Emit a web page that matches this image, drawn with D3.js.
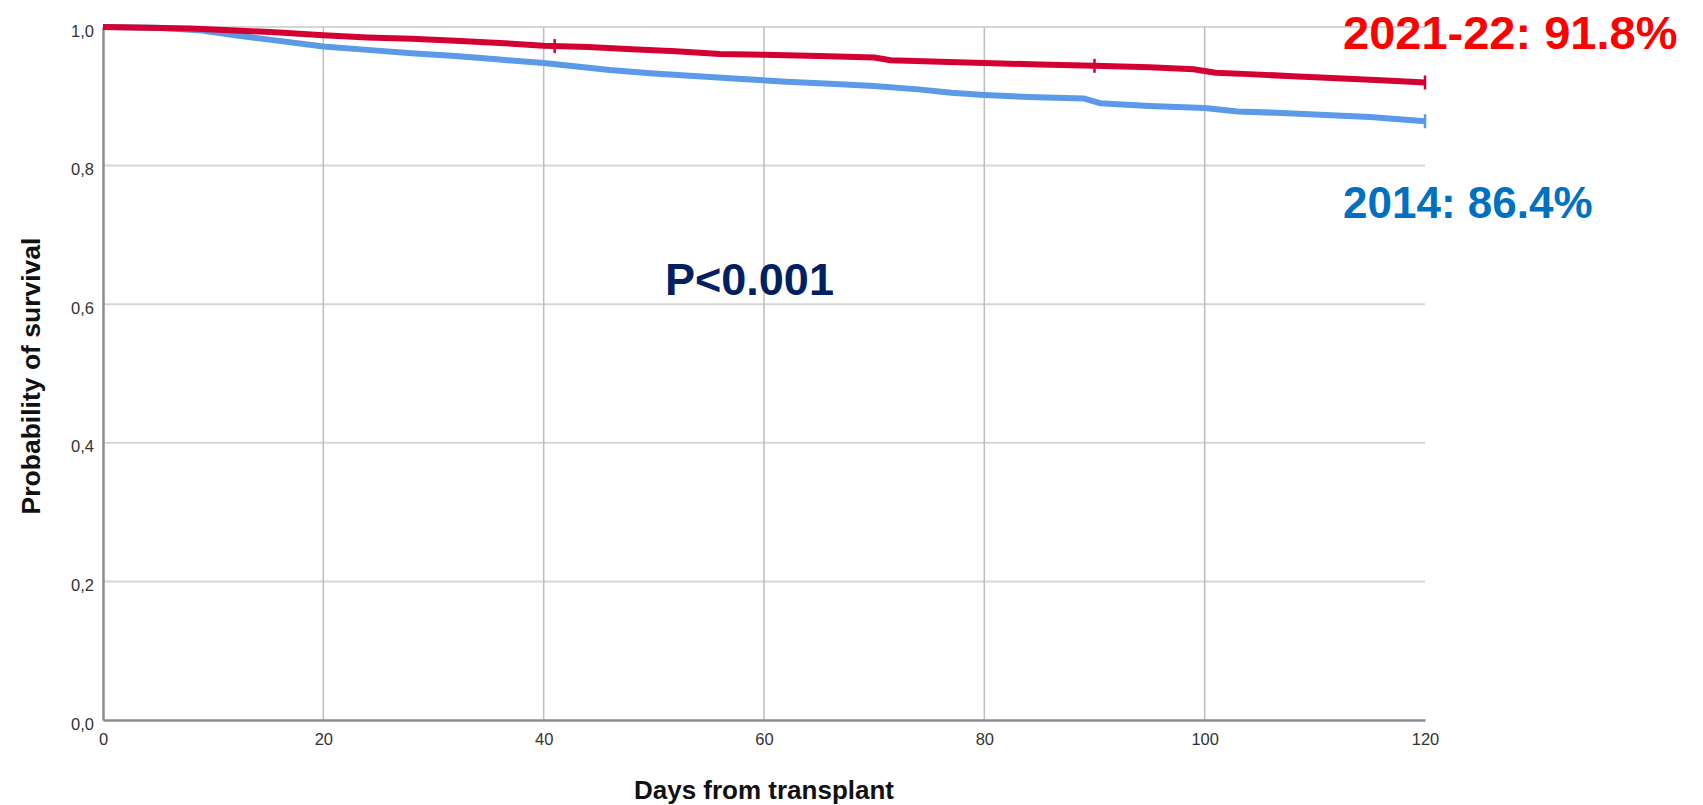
<!DOCTYPE html>
<html>
<head>
<meta charset="utf-8">
<script src="https://cdn.jsdelivr.net/npm/d3@7"></script>
<style>
  body { margin: 0; background: #fff; }
  svg { display: block; }
</style>
</head>
<body>
<svg id="chart" width="1703" height="805"></svg>
<script>
// Kaplan-Meier estimates (day, survival)
const daysRecent = [0, 8, 12, 16, 20, 24, 28, 32, 36, 40, 44, 48, 52, 56, 60, 65, 70, 71.5, 76, 80, 85, 90, 95, 99, 101, 104, 108, 112, 116, 120];
const survRecent = [1.0, 0.998, 0.995, 0.992, 0.988, 0.985, 0.983, 0.98, 0.977, 0.973, 0.971, 0.968, 0.965, 0.961, 0.96, 0.958, 0.956, 0.952, 0.95, 0.948, 0.946, 0.944, 0.942, 0.939, 0.934, 0.932, 0.929, 0.926, 0.923, 0.92];

const days2014 = [0, 5, 9, 12, 16, 20, 24, 28, 32, 36, 40, 43, 46, 50, 54, 58, 62, 66, 70, 74, 77, 80, 84, 89, 90.5, 95, 100, 103, 107, 111, 115, 120];
const surv2014 = [1.0, 0.999, 0.995, 0.988, 0.98, 0.972, 0.967, 0.962, 0.958, 0.953, 0.948, 0.943, 0.938, 0.933, 0.929, 0.925, 0.921, 0.918, 0.915, 0.91, 0.905, 0.902, 0.899, 0.897, 0.89, 0.886, 0.883, 0.878, 0.876, 0.873, 0.87, 0.864];

// censored observations (tick marks)
const censorRecent = [41, 90, 120];
const censor2014 = [120];

const xTicks = [0, 20, 40, 60, 80, 100, 120];
const yTicks = [0, 0.2, 0.4, 0.6, 0.8, 1.0];

const labelRecent = "2021-22: 91.8%";
const label2014 = "2014: 86.4%";
const pLabel = "P<0.001";

const svg = d3.select("#chart");
const margin = { left: 103, right: 278, top: 27, bottom: 85 };
const width = 1703, height = 805;

const x = d3.scaleLinear().domain([0, 120]).range([margin.left, width - margin.right]);
const y = d3.scaleLinear().domain([0, 1]).range([height - margin.bottom, margin.top]);

// grid
svg.append("g")
  .selectAll("line")
  .data(yTicks.filter((d) => d > 0))
  .join("line")
  .attr("x1", x(0)).attr("x2", x(120))
  .attr("y1", (d) => y(d)).attr("y2", (d) => y(d))
  .attr("stroke", "#d6d6d6")
  .attr("stroke-width", 2);

svg.append("g")
  .selectAll("line")
  .data(xTicks.filter((d) => d > 0 && d < 120))
  .join("line")
  .attr("x1", (d) => x(d)).attr("x2", (d) => x(d))
  .attr("y1", y(1)).attr("y2", y(0))
  .attr("stroke", "#bdbdbd")
  .attr("stroke-width", 1.5);

// axes
const xAxis = svg.append("g")
  .attr("transform", `translate(0,${y(0)})`)
  .call(d3.axisBottom(x).tickValues(xTicks).tickSize(0).tickPadding(13).tickFormat(d3.format("d")));
const yAxis = svg.append("g")
  .attr("transform", `translate(${x(0)},0)`)
  .call(d3.axisLeft(y).tickValues(yTicks).tickSize(0).tickPadding(9).tickFormat((d) => d.toFixed(1).replace(".", ",")));

[xAxis, yAxis].forEach((g) => {
  g.select(".domain").attr("stroke", "#8c8c8c").attr("stroke-width", 2.5);
  g.selectAll("text")
    .attr("font-family", "Arial, 'Liberation Sans', sans-serif")
    .attr("font-size", 16.5)
    .attr("fill", "#333");
});
yAxis.selectAll("text").attr("dy", "0.55em");

// curves
const line = d3.line()
  .x((d) => x(d[0]))
  .y((d) => y(d[1]));

const series = [
  { days: days2014, surv: surv2014, censor: censor2014, color: "#5a9ae6" },
  { days: daysRecent, surv: survRecent, censor: censorRecent, color: "#d50032" },
];

series.forEach((s) => {
  const pts = s.days.map((d, i) => [d, s.surv[i]]);
  svg.append("path")
    .datum(pts)
    .attr("fill", "none")
    .attr("stroke", s.color)
    .attr("stroke-width", 6)
    .attr("stroke-linejoin", "round")
    .attr("d", line);

  const valueAt = (t) => {
    const i = Math.min(d3.bisectRight(s.days, t), s.days.length - 1);
    if (i === 0) return s.surv[0];
    const t0 = s.days[i - 1], t1 = s.days[i];
    if (t1 === t0) return s.surv[i];
    return s.surv[i - 1] + (s.surv[i] - s.surv[i - 1]) * Math.min(1, (t - t0) / (t1 - t0));
  };
  svg.append("g")
    .selectAll("line")
    .data(s.censor)
    .join("line")
    .attr("x1", (d) => x(d)).attr("x2", (d) => x(d))
    .attr("y1", (d) => y(valueAt(d)) - 7)
    .attr("y2", (d) => y(valueAt(d)) + 7)
    .attr("stroke", s.color)
    .attr("stroke-width", 2.5);
});

// axis titles
svg.append("text")
  .attr("x", 764)
  .attr("y", 799)
  .attr("text-anchor", "middle")
  .attr("font-family", "Arial, 'Liberation Sans', sans-serif")
  .attr("font-weight", "bold")
  .attr("font-size", 26)
  .attr("fill", "#111")
  .text("Days from transplant");

svg.append("text")
  .attr("transform", "translate(40,376) rotate(-90)")
  .attr("text-anchor", "middle")
  .attr("font-family", "Arial, 'Liberation Sans', sans-serif")
  .attr("font-weight", "bold")
  .attr("font-size", 26.5)
  .attr("fill", "#111")
  .text("Probability of survival");

// annotations
svg.append("text")
  .attr("x", 1343)
  .attr("y", 49)
  .attr("font-family", "'Comic Sans MS', Arial, 'Liberation Sans', sans-serif")
  .attr("font-weight", "bold")
  .attr("font-size", 47)
  .attr("fill", "#ff0000")
  .text(labelRecent);

svg.append("text")
  .attr("x", 1343)
  .attr("y", 218)
  .attr("font-family", "Arial, 'Liberation Sans', sans-serif")
  .attr("font-weight", "bold")
  .attr("font-size", 44)
  .attr("fill", "#0070c0")
  .text(label2014);

svg.append("text")
  .attr("x", 665)
  .attr("y", 295)
  .attr("font-family", "Arial, 'Liberation Sans', sans-serif")
  .attr("font-weight", "bold")
  .attr("font-size", 45)
  .attr("fill", "#002060")
  .text(pLabel);
</script>
</body>
</html>
